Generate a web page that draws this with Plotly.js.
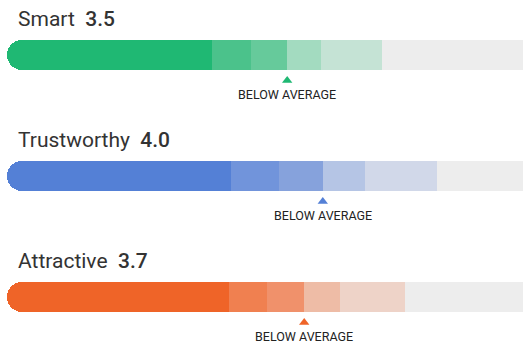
<!DOCTYPE html>
<html>
<head>
<meta charset="utf-8">
<script src="https://cdn.plot.ly/plotly-3.0.1.min.js"></script>
<style>
  html, body { margin: 0; padding: 0; background: #fff; }
  #chart { width: 523px; height: 360px; }
</style>
</head>
<body>
<div id="chart"></div>
<script>
// ---- data ----
const categories = ['Smart', 'Trustworthy', 'Attractive'];
const scores = [3.5, 4.0, 3.7];
const ratingLabels = ['BELOW AVERAGE', 'BELOW AVERAGE', 'BELOW AVERAGE'];
// segment end positions on a 0-100 track scale
const seg1End = [39.7, 43.4, 43.0];
const seg2End = [47.3, 52.7, 50.4];
const seg3End = [54.3, 61.2, 57.6];
const seg4End = [60.9, 69.4, 64.5];
const seg5End = [72.7, 83.3, 77.1];
const markerPos = [54.3, 61.2, 57.6];
const trackMax = 100;
// colours per category, by segment (darkest -> lightest)
const palette = [
  ['#1fb873', '#4bc28b', '#66ca9b', '#a3dbc0', '#c5e3d5'],
  ['#5480d6', '#7194db', '#86a2dc', '#b5c5e5', '#d1d8e9'],
  ['#ef6428', '#f08050', '#f0916b', '#eebca6', '#eed3c8']
];
const trackColor = '#ededed';

// ---- layout constants ----
const W = 523, H = 360, ML = 7;
const rowPx = 121, firstCenterPx = 55, barPx = 30;
const yTop = -firstCenterPx / rowPx;
const yBottom = (H - firstCenterPx) / rowPx;
const barW = barPx / rowPx;

const yIdx = categories.map((c, i) => i);
const ends = [seg1End, seg2End, seg3End, seg4End, seg5End];

const traces = [];
// grey track (from end of last segment to track end)
traces.push({
  type: 'bar', orientation: 'h', y: yIdx,
  base: seg5End, x: seg5End.map(v => trackMax - v),
  width: barW, marker: {color: trackColor, line: {width: 0}},
  hoverinfo: 'skip'
});
// segments 2..5
for (let s = 4; s >= 1; s--) {
  traces.push({
    type: 'bar', orientation: 'h', y: yIdx,
    base: ends[s - 1], x: ends[s].map((v, i) => v - ends[s - 1][i]),
    width: barW,
    marker: {color: palette.map(p => p[s]), line: {width: 0}},
    hoverinfo: 'skip'
  });
}
// first (solid) segment: rounded pill ...
traces.push({
  type: 'bar', orientation: 'h', y: yIdx,
  base: 0, x: seg1End,
  width: barW,
  marker: {color: palette.map(p => p[0]), line: {width: 0}, cornerradius: barPx / 2},
  hoverinfo: 'skip'
});
// ... with a square right half so only the left end is rounded
traces.push({
  type: 'bar', orientation: 'h', y: yIdx,
  base: seg1End.map(v => v / 2), x: seg1End.map(v => v / 2),
  width: barW,
  marker: {color: palette.map(p => p[0]), line: {width: 0}},
  hoverinfo: 'skip'
});
// triangle markers
traces.push({
  type: 'scatter', mode: 'markers',
  x: markerPos, y: yIdx.map(i => i + 25.5 / rowPx),
  marker: {symbol: 'triangle-up', size: 9, color: palette.map(p => p[0]), line: {width: 0}},
  hoverinfo: 'skip', cliponaxis: false
});

const annotations = [];
categories.forEach((c, i) => {
  annotations.push({
    xref: 'paper', yref: 'y', x: 0, y: i - 36 / rowPx,
    xanchor: 'left', yanchor: 'middle', xshift: 9,
    showarrow: false,
    text: c + '\u00a0\u00a0<span style="font-weight:500">' + scores[i].toFixed(1) + '</span>',
    font: {family: 'Roboto', size: 21, color: '#333333'}
  });
  annotations.push({
    xref: 'x', yref: 'y', x: markerPos[i], y: i + 39 / rowPx,
    xanchor: 'center', yanchor: 'middle',
    showarrow: false,
    text: ratingLabels[i],
    font: {family: 'Roboto', size: 12.5, color: '#222222'}
  });
});

const layout = {
  width: W, height: H,
  margin: {l: ML, r: 0, t: 0, b: 0, pad: 0},
  paper_bgcolor: '#ffffff', plot_bgcolor: '#ffffff',
  barmode: 'overlay', bargap: 0,
  showlegend: false,
  xaxis: {range: [0, trackMax], visible: false, fixedrange: true},
  yaxis: {range: [yBottom, yTop], visible: false, fixedrange: true},
  annotations: annotations,
  font: {family: 'Roboto'}
};

Plotly.newPlot('chart', traces, layout, {staticPlot: true, displayModeBar: false});
</script>
</body>
</html>
